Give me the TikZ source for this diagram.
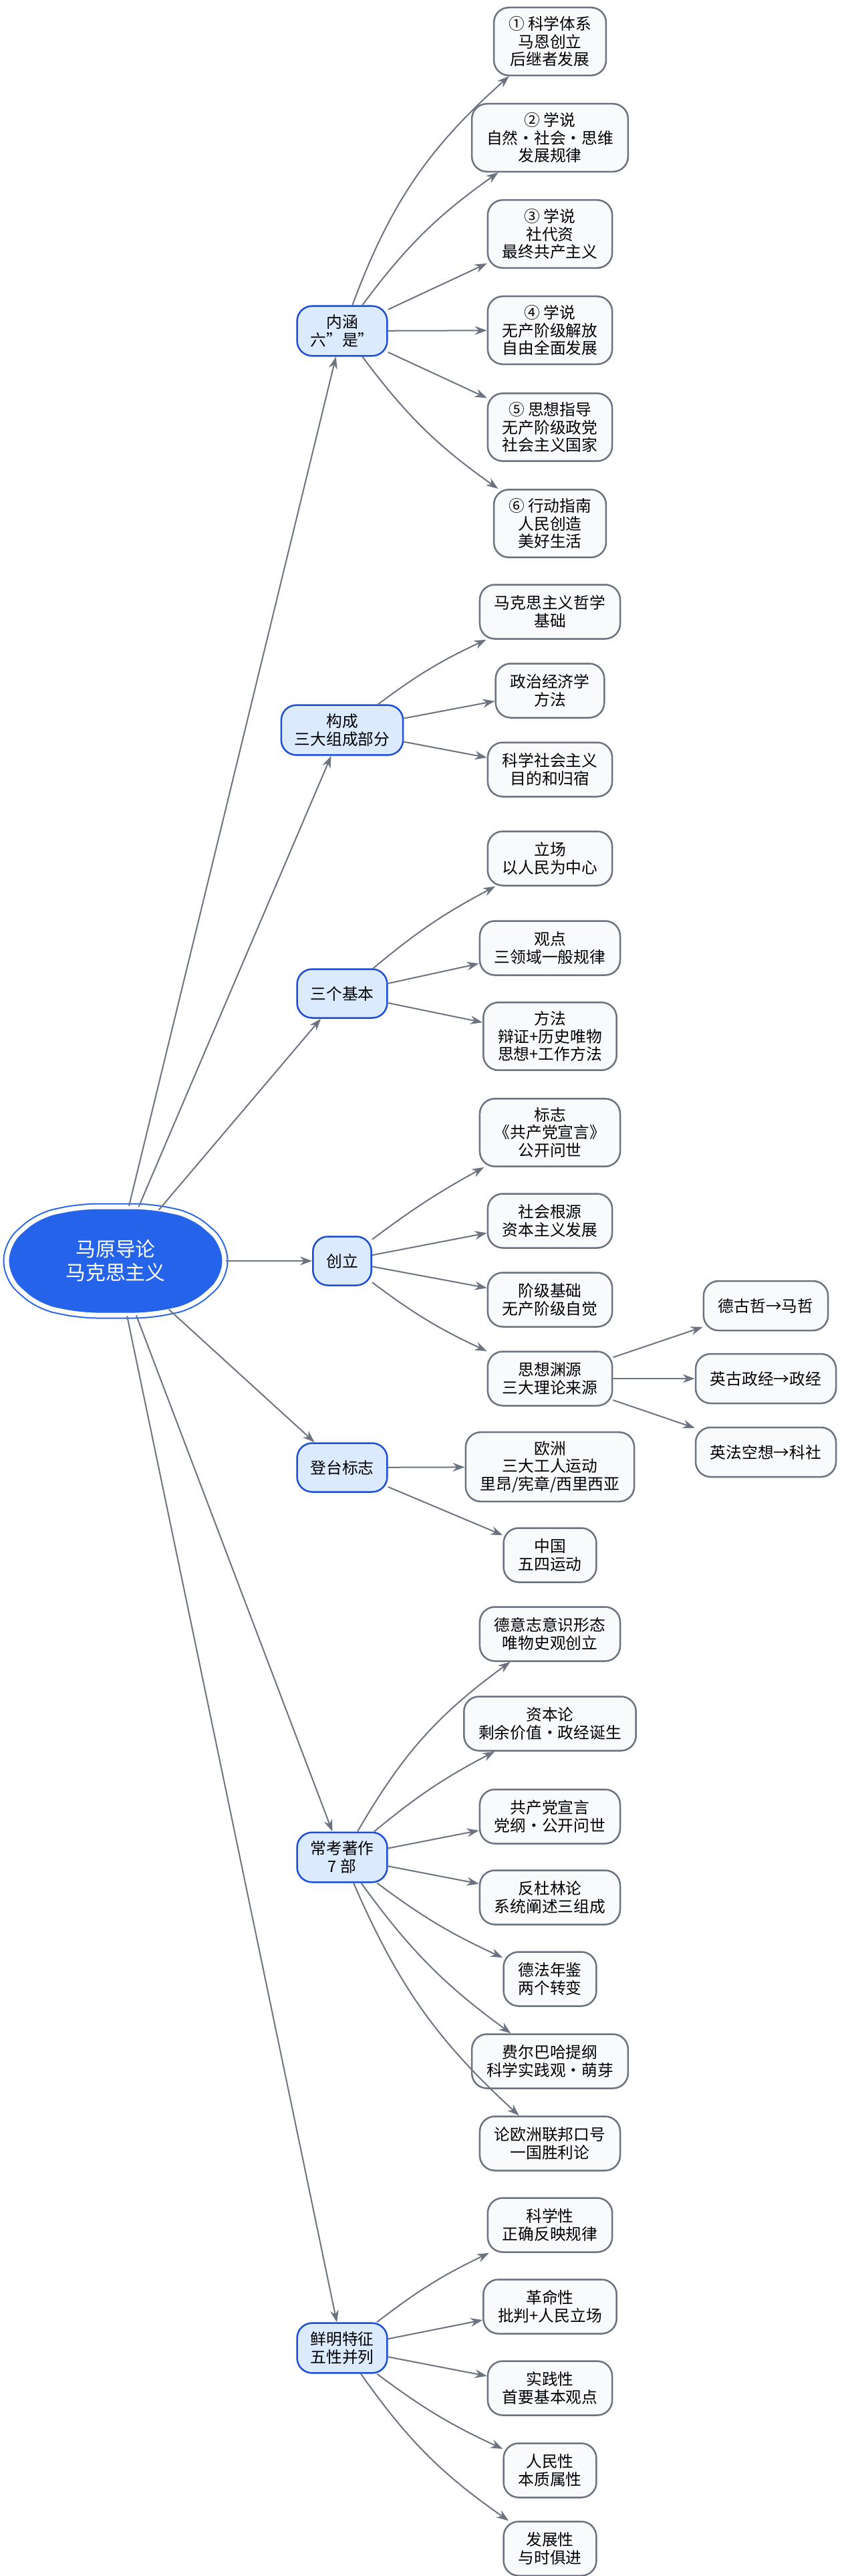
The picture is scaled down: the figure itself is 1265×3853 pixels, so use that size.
\documentclass[tikz,border=0pt]{standalone}
\usepackage{fontspec}
\setmainfont{Noto Sans CJK SC}
\usetikzlibrary{arrows.meta,positioning,shapes.geometric}
\definecolor{rootblue}{HTML}{2563EB}
\definecolor{topicfill}{HTML}{DBEAFE}
\definecolor{topicline}{HTML}{1D4ED8}
\definecolor{leaffill}{HTML}{F8FAFC}
\definecolor{leafline}{HTML}{6B7280}
\tikzset{
  topic/.style={draw=topicline,fill=topicfill,line width=0.05cm,rounded corners=0.45cm,
    align=center,inner xsep=0.4cm,inner ysep=0.26cm,minimum height=1.46cm},
  leaf/.style={draw=leafline,fill=leaffill,line width=0.05cm,rounded corners=0.45cm,
    align=center,inner xsep=0.44cm,inner ysep=0.26cm,minimum height=1.62cm},
  link/.style={draw=leafline,line width=0.04cm,-{Stealth[length=0.36cm,width=0.26cm]}},
}
\begin{document}
\begin{tikzpicture}[x=0.02cm,y=-0.02cm,font=\fontsize{13.5}{15.2}\selectfont]
\useasboundingbox (0,0) rectangle (1265,3853);
% centre
\begin{scope}[shift={(173,1886)}]
  \path[draw=rootblue,line width=0.22cm,fill=rootblue,rounded corners=0.5cm]
    (-163,-26)--(-115,-68)--(-52,-81)--(52,-81)--(115,-68)--(163,-26)
    --(163,26)--(115,68)--(52,81)--(-52,81)--(-115,68)--(-163,26)--cycle;
  \path[draw=white,line width=0.14cm,rounded corners=0.5cm]
    (-163,-26)--(-115,-68)--(-52,-81)--(52,-81)--(115,-68)--(163,-26)
    --(163,26)--(115,68)--(52,81)--(-52,81)--(-115,68)--(-163,26)--cycle;
\end{scope}
\node[ellipse,minimum width=6.6cm,minimum height=3.3cm,text=white,align=center,
  font=\fontsize{17}{20}\selectfont] (root) at (173,1886) {马原导论\\马克思主义};

% first level
\node[topic] (neihan) at (512,495) {内涵\\六"是"};
\node[topic] (goucheng) at (512,1092) {构成\\三大组成部分};
\node[topic] (jiben) at (512,1486) {三个基本};
\node[topic] (chuangli) at (512,1886) {创立};
\node[topic] (dengtai) at (512,2195) {登台标志};
\node[topic] (zhuzuo) at (512,2778) {常考著作\\7 部};
\node[topic] (tezheng) at (512,3512) {鲜明特征\\五性并列};

\foreach \t in {neihan,goucheng,jiben,chuangli,dengtai,zhuzuo,tezheng}
  \draw[link] (root) -- (\t);

% 内涵
\node[leaf] (nh1) at (823,62) {① 科学体系\\马恩创立\\后继者发展};
\node[leaf] (nh2) at (823,206) {② 学说\\自然·社会·思维\\发展规律};
\node[leaf] (nh3) at (823,350) {③ 学说\\社代资\\最终共产主义};
\node[leaf] (nh4) at (823,494) {④ 学说\\无产阶级解放\\自由全面发展};
\node[leaf] (nh5) at (823,639) {⑤ 思想指导\\无产阶级政党\\社会主义国家};
\node[leaf] (nh6) at (823,783) {⑥ 行动指南\\人民创造\\美好生活};
\draw[link] (neihan) to[bend left=14] (nh1);
\draw[link] (neihan) to[bend left=9] (nh2);
\draw[link] (neihan) -- (nh3);
\draw[link] (neihan) -- (nh4);
\draw[link] (neihan) -- (nh5);
\draw[link] (neihan) to[bend right=9] (nh6);

% 构成
\node[leaf] (gc1) at (823,915) {马克思主义哲学\\基础};
\node[leaf] (gc2) at (823,1033) {政治经济学\\方法};
\node[leaf] (gc3) at (823,1151) {科学社会主义\\目的和归宿};
\draw[link] (goucheng) to[bend left=6] (gc1);
\draw[link] (goucheng) -- (gc2);
\draw[link] (goucheng) -- (gc3);

% 三个基本
\node[leaf] (jb1) at (823,1284) {立场\\以人民为中心};
\node[leaf] (jb2) at (823,1418) {观点\\三领域一般规律};
\node[leaf] (jb3) at (823,1550) {方法\\辩证+历史唯物\\思想+工作方法};
\draw[link] (jiben) to[bend left=6] (jb1);
\draw[link] (jiben) -- (jb2);
\draw[link] (jiben) -- (jb3);

% 创立
\node[leaf] (cl1) at (823,1694) {标志\\《共产党宣言》\\公开问世};
\node[leaf] (cl2) at (823,1826) {社会根源\\资本主义发展};
\node[leaf] (cl3) at (823,1944) {阶级基础\\无产阶级自觉};
\node[leaf] (cl4) at (823,2062) {思想渊源\\三大理论来源};
\draw[link] (chuangli) to[bend left=4] (cl1);
\draw[link] (chuangli) -- (cl2);
\draw[link] (chuangli) -- (cl3);
\draw[link] (chuangli) to[bend right=6] (cl4);

\node[leaf,minimum height=1.48cm] (ly1) at (1146,1953) {德古哲→马哲};
\node[leaf,minimum height=1.48cm] (ly2) at (1146,2062) {英古政经→政经};
\node[leaf,minimum height=1.48cm] (ly3) at (1146,2172) {英法空想→科社};
\foreach \s in {ly1,ly2,ly3}
  \draw[link] (cl4) -- (\s);

% 登台标志
\node[leaf] (dt1) at (823,2194) {欧洲\\三大工人运动\\里昂/宪章/西里西亚};
\node[leaf] (dt2) at (823,2326) {中国\\五四运动};
\draw[link] (dengtai) -- (dt1);
\draw[link] (dengtai) -- (dt2);

% 常考著作
\node[leaf] (zz1) at (823,2444) {德意志意识形态\\唯物史观创立};
\node[leaf] (zz2) at (823,2578) {资本论\\剩余价值·政经诞生};
\node[leaf] (zz3) at (823,2717) {共产党宣言\\党纲·公开问世};
\node[leaf] (zz4) at (823,2838) {反杜林论\\系统阐述三组成};
\node[leaf] (zz5) at (823,2960) {德法年鉴\\两个转变};
\node[leaf] (zz6) at (823,3083) {费尔巴哈提纲\\科学实践观·萌芽};
\node[leaf] (zz7) at (823,3206) {论欧洲联邦口号\\一国胜利论};
\draw[link] (zhuzuo) to[bend left=12] (zz1);
\draw[link] (zhuzuo) to[bend left=6] (zz2);
\draw[link] (zhuzuo) -- (zz3);
\draw[link] (zhuzuo) -- (zz4);
\draw[link] (zhuzuo) to[bend right=6] (zz5);
\draw[link] (zhuzuo) to[bend right=9] (zz6);
\draw[link] (zhuzuo) to[bend right=12] (zz7);

% 鲜明特征
\node[leaf] (tz1) at (823,3328) {科学性\\正确反映规律};
\node[leaf] (tz2) at (823,3450) {革命性\\批判+人民立场};
\node[leaf] (tz3) at (823,3572) {实践性\\首要基本观点};
\node[leaf] (tz4) at (823,3695) {人民性\\本质属性};
\node[leaf] (tz5) at (823,3812) {发展性\\与时俱进};
\draw[link] (tezheng) to[bend left=6] (tz1);
\draw[link] (tezheng) -- (tz2);
\draw[link] (tezheng) -- (tz3);
\draw[link] (tezheng) to[bend right=6] (tz4);
\draw[link] (tezheng) to[bend right=10] (tz5);
\end{tikzpicture}
\end{document}
